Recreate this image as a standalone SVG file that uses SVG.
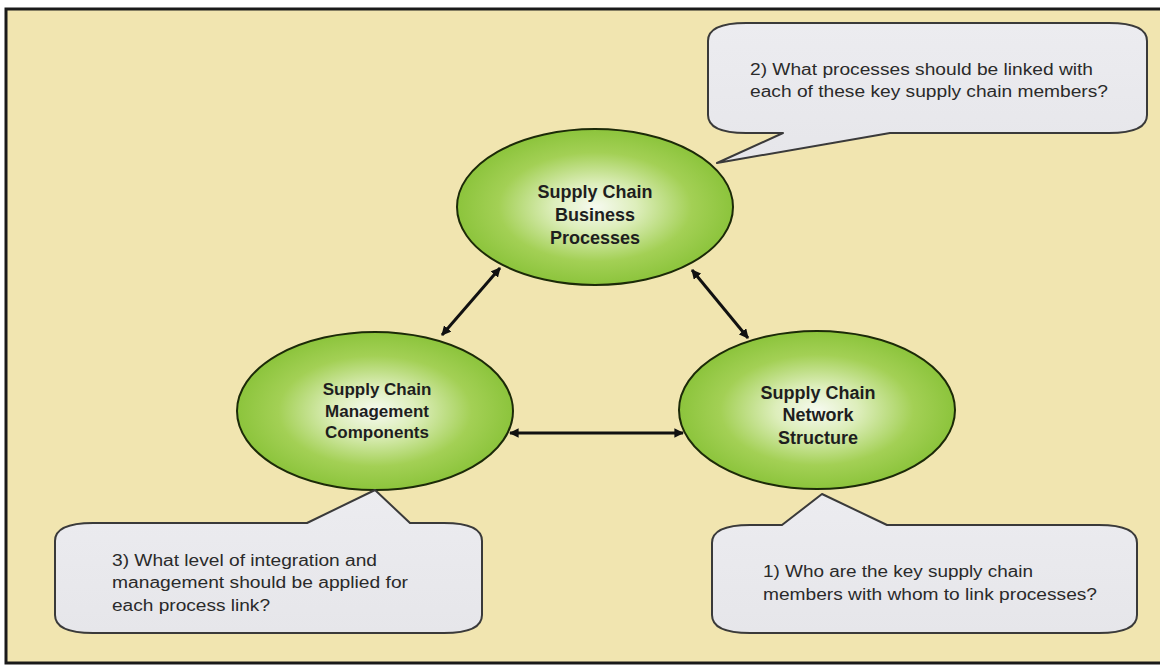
<svg xmlns="http://www.w3.org/2000/svg" width="1160" height="666" viewBox="0 0 1160 666">
<defs>
<radialGradient id="eg" cx="50%" cy="50%" r="50%">
<stop offset="0%" stop-color="#f6faf0"/>
<stop offset="30%" stop-color="#ddeebb"/>
<stop offset="70%" stop-color="#a3d055"/>
<stop offset="100%" stop-color="#8cc43c"/>
</radialGradient>
<linearGradient id="cg" x1="0" y1="0" x2="0" y2="1">
<stop offset="0%" stop-color="#ececf0"/>
<stop offset="100%" stop-color="#e6e6ea"/>
</linearGradient>
<marker id="ah" viewBox="0 0 10 10" refX="9" refY="5" markerWidth="3.2" markerHeight="3.2" orient="auto-start-reverse" markerUnits="strokeWidth">
<path d="M0,0 L10,5 L0,10 Z" fill="#111"/>
</marker>
<style>
.ell{fill:url(#eg);stroke:#1c2a08;stroke-width:2}
.et{font-family:"Liberation Sans",Arial,sans-serif;font-weight:bold;fill:#1e1e1e;text-anchor:middle}
.co{fill:url(#cg);stroke:#3a3a3a;stroke-width:2;stroke-linejoin:round}
.ct{font-family:"Liberation Sans",Arial,sans-serif;font-size:16px;fill:#2a2a2a}
.cn{stroke:#111;stroke-width:3;fill:none;marker-start:url(#ah);marker-end:url(#ah)}
</style>
</defs>
<rect x="0" y="0" width="1160" height="666" fill="#ffffff"/>
<rect x="6" y="9" width="1170" height="654" fill="#f1e5b0" stroke="#1a1a1a" stroke-width="3"/>

<g id="connectors">
<line class="cn" x1="500" y1="268" x2="442" y2="335"/>
<line class="cn" x1="692" y1="270" x2="748" y2="338"/>
<line class="cn" x1="510" y1="433" x2="683" y2="433"/>
</g>

<g id="node-business">
<ellipse class="ell" cx="595" cy="207" rx="138" ry="78"/>
<text class="et" font-size="18" x="595" y="198">Supply Chain</text>
<text class="et" font-size="18" x="595" y="221">Business</text>
<text class="et" font-size="18" x="595" y="244">Processes</text>
</g>

<g id="node-management">
<ellipse class="ell" cx="375" cy="411" rx="138" ry="79"/>
<text class="et" font-size="17" x="377" y="395">Supply Chain</text>
<text class="et" font-size="17" x="377" y="417">Management</text>
<text class="et" font-size="17" x="377" y="438">Components</text>
</g>

<g id="node-network">
<ellipse class="ell" cx="817" cy="410" rx="138" ry="79"/>
<text class="et" font-size="18" x="818" y="399">Supply Chain</text>
<text class="et" font-size="18" x="818" y="421">Network</text>
<text class="et" font-size="18" x="818" y="444">Structure</text>
</g>

<g id="callout-2">
<path class="co" d="M746 23 L1109 23 Q1147 23 1147 41 L1147 115 Q1147 133 1109 133 L890 133 L717 163 L783 133 L746 133 Q708 133 708 115 L708 41 Q708 23 746 23 Z"/>
<text class="ct" x="750" y="75" textLength="343" lengthAdjust="spacingAndGlyphs">2) What processes should be linked with</text>
<text class="ct" x="750" y="97" textLength="358" lengthAdjust="spacingAndGlyphs">each of these key supply chain members?</text>
</g>

<g id="callout-3">
<path class="co" d="M93 523 L307 523 L375 490 L410 523 L444 523 Q482 523 482 541 L482 615 Q482 633 444 633 L93 633 Q55 633 55 615 L55 541 Q55 523 93 523 Z"/>
<text class="ct" x="112" y="566" textLength="265" lengthAdjust="spacingAndGlyphs">3) What level of integration and</text>
<text class="ct" x="112" y="588" textLength="296" lengthAdjust="spacingAndGlyphs">management should be applied for</text>
<text class="ct" x="112" y="611" textLength="158" lengthAdjust="spacingAndGlyphs">each process link?</text>
</g>

<g id="callout-1">
<path class="co" d="M750 525 L782 525 L822 494 L887 525 L1099 525 Q1137 525 1137 543 L1137 615 Q1137 633 1099 633 L750 633 Q712 633 712 615 L712 543 Q712 525 750 525 Z"/>
<text class="ct" x="763" y="577" textLength="270" lengthAdjust="spacingAndGlyphs">1) Who are the key supply chain</text>
<text class="ct" x="763" y="600" textLength="334" lengthAdjust="spacingAndGlyphs">members with whom to link processes?</text>
</g>
</svg>
